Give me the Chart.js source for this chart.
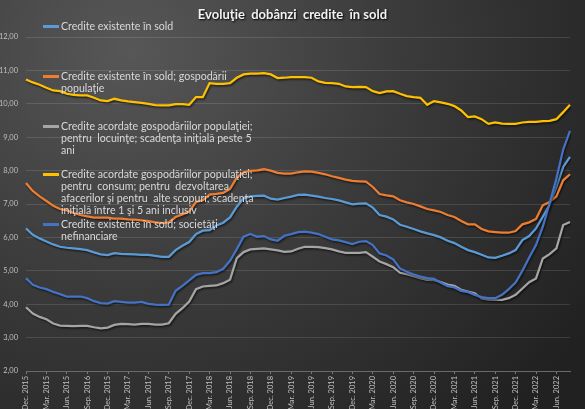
<!DOCTYPE html>
<html>
<head>
<meta charset="utf-8">
<script src="https://cdn.jsdelivr.net/npm/chart.js@4.4.0/dist/chart.umd.min.js"></script>
<style>
  body { margin: 0; background: #222; }
  #wrap {
    position: relative; width: 585px; height: 409px; overflow: hidden;
    background: radial-gradient(ellipse 95% 120% at 22% 12%, #575757 0%, #3d3d3d 45%, #212121 100%);
  }
  #chart { position: absolute; left: 0; top: 0; }
  #title {
    position: absolute; left: 0; top: 6px; width: 585px; text-align: center;
    font: bold 13px Lato, sans-serif; color: #f2f2f2; white-space: pre;
    text-shadow: 1px 1px 2px #000;
  }
  .leg {
    position: absolute; left: 61px; font: 10.6px Lato, sans-serif; color: #d9d9d9;
    line-height: 12px; white-space: pre;
  }
  .leg i { position: absolute; left: -18px; top: 5px; width: 16px; height: 2.5px; }
</style>
</head>
<body>
<div id="wrap">
  <canvas id="chart" width="585" height="409"></canvas>
  <div id="title">Evoluţie  dobânzi  credite  în sold</div>
  <div id="legend"></div>
</div>
<script>
// Categories (monthly, Dec. 2015 - Aug. 2022)
const months = [
  'Dec. 2015',
  'Jan. 2016', 'Feb. 2016', 'Mar. 2016', 'Apr. 2016', 'May 2016', 'Jun. 2016', 'Jul. 2016', 'Aug. 2016', 'Sep. 2016', 'Oct. 2016', 'Nov. 2016', 'Dec. 2016',
  'Jan. 2017', 'Feb. 2017', 'Mar. 2017', 'Apr. 2017', 'May 2017', 'Jun. 2017', 'Jul. 2017', 'Aug. 2017', 'Sep. 2017', 'Oct. 2017', 'Nov. 2017', 'Dec. 2017',
  'Jan. 2018', 'Feb. 2018', 'Mar. 2018', 'Apr. 2018', 'May 2018', 'Jun. 2018', 'Jul. 2018', 'Aug. 2018', 'Sep. 2018', 'Oct. 2018', 'Nov. 2018', 'Dec. 2018',
  'Jan. 2019', 'Feb. 2019', 'Mar. 2019', 'Apr. 2019', 'May 2019', 'Jun. 2019', 'Jul. 2019', 'Aug. 2019', 'Sep. 2019', 'Oct. 2019', 'Nov. 2019', 'Dec. 2019',
  'Jan. 2020', 'Feb. 2020', 'Mar. 2020', 'Apr. 2020', 'May 2020', 'Jun. 2020', 'Jul. 2020', 'Aug. 2020', 'Sep. 2020', 'Oct. 2020', 'Nov. 2020', 'Dec. 2020',
  'Jan. 2021', 'Feb. 2021', 'Mar. 2021', 'Apr. 2021', 'May 2021', 'Jun. 2021', 'Jul. 2021', 'Aug. 2021', 'Sep. 2021', 'Oct. 2021', 'Nov. 2021', 'Dec. 2021',
  'Jan. 2022', 'Feb. 2022', 'Mar. 2022', 'Apr. 2022', 'May 2022', 'Jun. 2022', 'Jul. 2022', 'Aug. 2022'
];

// Tick labels shown on the axis, one every 3 months (as printed on the original)
const tickLabels = [
  'Dec. 2015', 'Mar. 2015', 'Jun. 2015', 'Sep. 2016', 'Dec. 2015', 'Mar. 2017', 'Jun. 2017',
  'Sep. 2017', 'Dec. 2017', 'Mar. 2018', 'Jun. 2018', 'Sep. 2018', 'Dec. 2018', 'Mar. 2019',
  'Jun. 2019', 'Sep. 2019', 'Dec. 2019', 'Mar. 2020', 'Jun. 2020', 'Sep. 2020', 'Dec. 2020',
  'Mar. 2021', 'Jun. 2021', 'Sep. 2021', 'Dec. 2021', 'Mar. 2022', 'Jun. 2022'
];

// Series values (%)
const existente = [
  6.27, 6.08, 5.97, 5.88, 5.79, 5.72, 5.69, 5.67, 5.65, 5.62,
  5.55, 5.49, 5.47, 5.53, 5.51, 5.50, 5.49, 5.48, 5.48, 5.45,
  5.42, 5.42, 5.62, 5.75, 5.86, 6.10, 6.20, 6.22, 6.36, 6.44,
  6.60, 6.92, 7.17, 7.23, 7.24, 7.25, 7.16, 7.13, 7.18, 7.22,
  7.27, 7.28, 7.25, 7.22, 7.18, 7.15, 7.11, 7.05, 6.99, 7.01,
  7.02, 6.89, 6.67, 6.62, 6.54, 6.38, 6.32, 6.25, 6.18, 6.12,
  6.07, 6.00, 5.90, 5.83, 5.72, 5.62, 5.56, 5.48, 5.40, 5.39,
  5.45, 5.52, 5.62, 5.92, 6.04, 6.27, 6.62, 6.97, 7.51, 8.11,
  8.41
];
const gospodarii = [
  7.63, 7.39, 7.23, 7.09, 6.95, 6.85, 6.81, 6.73, 6.67, 6.63,
  6.59, 6.59, 6.59, 6.56, 6.56, 6.54, 6.53, 6.51, 6.49, 6.45,
  6.43, 6.45, 6.61, 6.69, 6.78, 7.06, 7.11, 7.28, 7.30, 7.33,
  7.45, 7.79, 7.95, 7.99, 8.01, 8.04, 8.00, 7.93, 7.91, 7.91,
  7.95, 7.98, 7.97, 7.93, 7.89, 7.83, 7.78, 7.73, 7.69, 7.68,
  7.67, 7.51, 7.30, 7.26, 7.23, 7.11, 7.05, 7.00, 6.93, 6.85,
  6.81, 6.76, 6.67, 6.61, 6.49, 6.39, 6.39, 6.25, 6.18, 6.16,
  6.14, 6.14, 6.19, 6.39, 6.45, 6.55, 6.96, 7.06, 7.23, 7.71,
  7.89
];
const locuinte = [
  3.91, 3.72, 3.62, 3.55, 3.42, 3.36, 3.35, 3.34, 3.35, 3.35,
  3.31, 3.28, 3.30, 3.38, 3.41, 3.40, 3.39, 3.41, 3.41, 3.39,
  3.39, 3.43, 3.71, 3.88, 4.08, 4.45, 4.53, 4.55, 4.56, 4.63,
  4.73, 5.38, 5.56, 5.64, 5.66, 5.67, 5.64, 5.61, 5.57, 5.58,
  5.66, 5.72, 5.72, 5.71, 5.68, 5.64, 5.58, 5.54, 5.54, 5.54,
  5.56, 5.42, 5.28, 5.20, 5.11, 4.94, 4.90, 4.84, 4.78, 4.73,
  4.72, 4.66, 4.59, 4.55, 4.43, 4.38, 4.33, 4.17, 4.14, 4.13,
  4.13, 4.18, 4.28, 4.47, 4.66, 4.77, 5.37, 5.50, 5.67, 6.37,
  6.46
];
const consum = [
  10.73, 10.64, 10.57, 10.48, 10.40, 10.38, 10.30, 10.27, 10.25, 10.25,
  10.18, 10.10, 10.08, 10.15, 10.10, 10.07, 10.05, 10.03, 10.00, 9.96,
  9.95, 9.95, 9.99, 9.99, 9.97, 10.20, 10.20, 10.62, 10.60, 10.60,
  10.62, 10.78, 10.88, 10.90, 10.90, 10.92, 10.88, 10.77, 10.78, 10.80,
  10.80, 10.80, 10.78, 10.67, 10.63, 10.62, 10.60, 10.52, 10.50, 10.51,
  10.50, 10.38, 10.32, 10.37, 10.38, 10.30, 10.23, 10.20, 10.18, 9.97,
  10.08, 10.04, 10.00, 9.93, 9.80, 9.60, 9.62, 9.54, 9.40, 9.44,
  9.41, 9.40, 9.40, 9.44, 9.46, 9.46, 9.48, 9.49, 9.54, 9.75,
  9.97
];
const societati = [
  4.78, 4.58, 4.50, 4.45, 4.37, 4.30, 4.23, 4.23, 4.23, 4.18,
  4.09, 4.03, 4.02, 4.09, 4.07, 4.05, 4.05, 4.07, 4.01, 3.99,
  3.98, 3.99, 4.40, 4.55, 4.71, 4.88, 4.93, 4.93, 4.96, 5.06,
  5.30, 5.65, 6.02, 6.10, 6.02, 6.04, 5.94, 5.90, 6.05, 6.10,
  6.16, 6.17, 6.14, 6.10, 6.02, 5.94, 5.91, 5.86, 5.80, 5.87,
  5.89, 5.77, 5.52, 5.46, 5.34, 5.07, 4.97, 4.89, 4.83, 4.78,
  4.76, 4.64, 4.54, 4.50, 4.40, 4.36, 4.28, 4.21, 4.18, 4.18,
  4.28, 4.45, 4.65, 5.00, 5.40, 5.77, 6.32, 7.02, 7.76, 8.63,
  9.19
];

// Legend text, line by line as wrapped in the original
const seriesNames = [
  ['Credite existente în sold'],
  ['Credite existente în sold; gospodării', 'populaţie'],
  ['Credite acordate gospodăriilor populaţiei;', 'pentru  locuinţe; scadenţa iniţială peste 5', 'ani'],
  ['Credite acordate gospodăriilor populaţiei;', 'pentru  consum; pentru  dezvoltarea', 'afacerilor şi pentru  alte scopuri; scadenţa', 'iniţială între 1 şi 5 ani inclusiv'],
  ['Credite existente în sold; societăţi', 'nefinanciare']
];
const seriesData = [existente, gospodarii, locuinte, consum, societati];
const seriesColors = ['#5b9bd5', '#ed7d31', '#a5a5a5', '#ffc000', '#4472c4'];

// Legend layout (top of each entry, px)
const legendTops = [20, 70, 120, 168, 218];

// HTML legend
const legendBox = document.getElementById('legend');
seriesNames.forEach((lines, i) => {
    const div = document.createElement('div');
    div.className = 'leg';
    div.style.top = legendTops[i] + 'px';
    div.innerHTML = `<i style="background:${seriesColors[i]}"></i>` + lines.join('<br>');
    legendBox.appendChild(div);
});

// Soft shadow under the lines, like the original
const lineShadow = {
    id: 'lineShadow',
    beforeDatasetDraw(chart) {
        const c = chart.ctx;
        c.save();
        c.shadowColor = 'rgba(0, 0, 0, 0.6)';
        c.shadowBlur = 2;
        c.shadowOffsetX = 1;
        c.shadowOffsetY = 1.5;
    },
    afterDatasetDraw(chart) {
        chart.ctx.restore();
    }
};

Chart.defaults.font.family = 'Lato';

new Chart(document.getElementById('chart'), {
    type: 'line',
    data: {
        labels: months,
        datasets: seriesData.map((d, i) => ({
            label: seriesNames[i].join(' '),
            data: d,
            borderColor: seriesColors[i],
            backgroundColor: seriesColors[i],
            borderWidth: 2.25,
            pointRadius: 0,
            tension: 0,
            order: seriesData.length - i
        }))
    },
    options: {
        responsive: false,
        animation: false,
        layout: { padding: { top: 37, right: 15, left: 0, bottom: 0 } },
        plugins: {
            legend: { display: false },
            title: { display: false },
            tooltip: { enabled: false }
        },
        scales: {
            x: {
                offset: false,
                grid: {
                    drawOnChartArea: false,
                    tickLength: 3,
                    color: (ctx) => ctx.index % 3 === 0 ? '#7a7a7a' : 'transparent'
                },
                border: { color: '#6a6a6a' },
                ticks: {
                    autoSkip: false,
                    minRotation: 90,
                    maxRotation: 90,
                    padding: 2,
                    color: '#bfbfbf',
                    font: { size: 7.5 },
                    callback: (v, i) => i % 3 === 0 ? tickLabels[i / 3] : ''
                },
                afterFit: (s) => { s.height = 38; }
            },
            y: {
                min: 2,
                max: 12,
                ticks: {
                    stepSize: 1,
                    padding: 8,
                    color: '#bfbfbf',
                    font: { size: 7.5 },
                    callback: (v) => v.toFixed(2).replace('.', ',')
                },
                grid: { color: 'rgba(255, 255, 255, 0.12)', drawTicks: false },
                border: { display: false },
                afterFit: (s) => { s.width = 26; }
            }
        }
    },
    plugins: [lineShadow]
});
</script>
</body>
</html>
